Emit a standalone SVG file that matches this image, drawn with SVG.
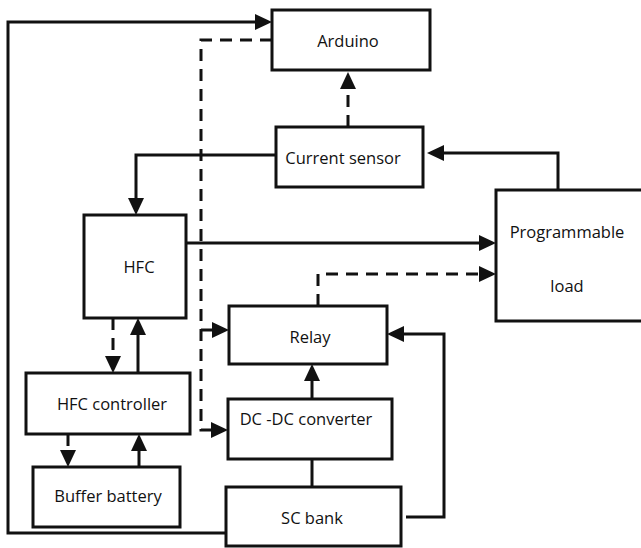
<svg xmlns="http://www.w3.org/2000/svg" width="641" height="548" viewBox="0 0 641 548">
<style>
.box{fill:#fff;stroke:#111;stroke-width:3}
.lbl{font-family:"Open Sans","Noto Sans",sans-serif;font-size:16.5px;fill:#111;text-anchor:middle}
.ln{fill:none;stroke:#111;stroke-width:3}
.ds{stroke-dasharray:12 8}
</style>
<defs>
<marker id="ah" markerUnits="userSpaceOnUse" markerWidth="18" markerHeight="17" refX="0" refY="8" orient="auto" viewBox="0 0 18 16" overflow="visible">
<path d="M0,0 L17,8 L0,16 Z" fill="#111" stroke="none"/>
</marker>
</defs>
<rect width="641" height="548" fill="#fff"/>
<g id="connectors">
<path class="ln" d="M226,533 H8 V22 H255" marker-end="url(#ah)"/>
<path class="ln ds" d="M272,40 H201 V430 H211" marker-end="url(#ah)"/>
<path class="ln ds" d="M201,330 H212" marker-end="url(#ah)"/>
<path class="ln ds" d="M348,127 V89" marker-end="url(#ah)"/>
<path class="ln" d="M276,155 H136 V198" marker-end="url(#ah)"/>
<path class="ln" d="M558,190 V153 H444" marker-end="url(#ah)"/>
<path class="ln" d="M186,243 H479" marker-end="url(#ah)"/>
<path class="ln ds" d="M318,306 V274 H479" marker-end="url(#ah)"/>
<path class="ln ds" d="M113,318 V356" marker-end="url(#ah)"/>
<path class="ln" d="M138,373 V335" marker-end="url(#ah)"/>
<path class="ln ds" d="M68,434 V450" marker-end="url(#ah)"/>
<path class="ln" d="M139,467 V451" marker-end="url(#ah)"/>
<path class="ln" d="M312,399 V381" marker-end="url(#ah)"/>
<path class="ln" d="M312,459 V487"/>
<path class="ln" d="M406,517 H444 V334 H404" marker-end="url(#ah)"/>
</g>
<g id="arduino"><rect class="box" x="272" y="10" width="158" height="60"/><text class="lbl" x="348" y="47">Arduino</text></g>
<g id="current-sensor"><rect class="box" x="276" y="127" width="147" height="60"/><text class="lbl" x="343" y="164">Current sensor</text></g>
<g id="hfc"><rect class="box" x="84" y="215" width="102" height="103"/><text class="lbl" x="139" y="273">HFC</text></g>
<g id="programmable-load"><rect class="box" x="496" y="190" width="147" height="131"/><text class="lbl" x="567" y="238">Programmable</text><text class="lbl" x="567" y="292">load</text></g>
<g id="relay"><rect class="box" x="229" y="306" width="158" height="58"/><text class="lbl" x="310" y="343">Relay</text></g>
<g id="hfc-controller"><rect class="box" x="26" y="373" width="164" height="61"/><text class="lbl" x="112" y="410">HFC controller</text></g>
<g id="dcdc"><rect class="box" x="228" y="399" width="164" height="60"/><text class="lbl" x="306" y="425">DC -DC converter</text></g>
<g id="buffer-battery"><rect class="box" x="33" y="467" width="147" height="60"/><text class="lbl" x="108" y="502">Buffer battery</text></g>
<g id="sc-bank"><rect class="box" x="226" y="487" width="175" height="59"/><text class="lbl" x="312" y="524">SC bank</text></g>
</svg>
